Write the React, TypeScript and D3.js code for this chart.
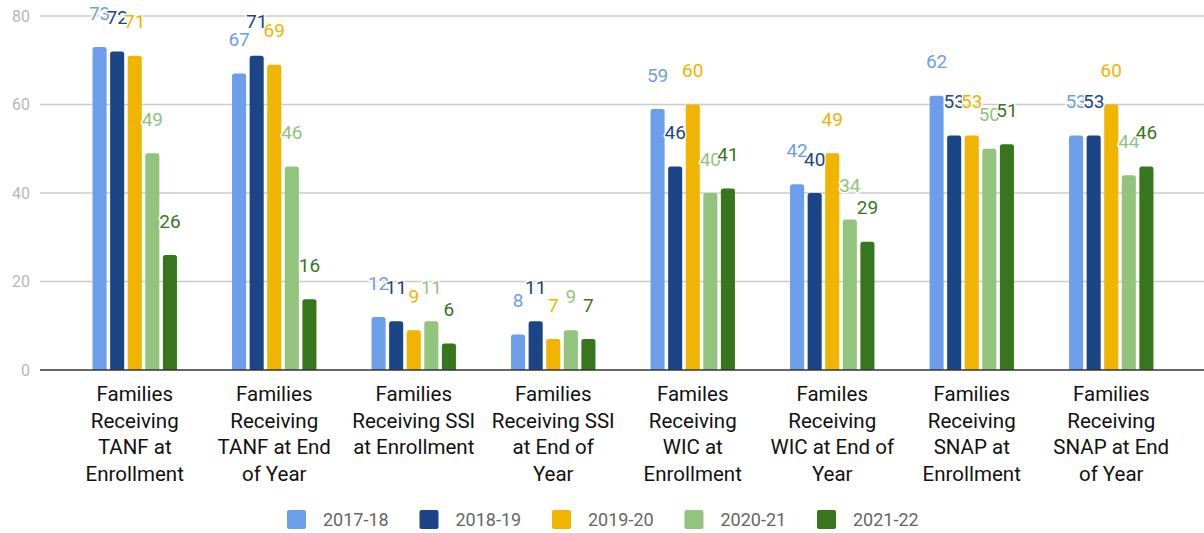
import React from "react";
import * as d3 from "d3";

const categories = [
  "Families\nReceiving\nTANF at\nEnrollment",
  "Families\nReceiving\nTANF at End\nof Year",
  "Families\nReceiving SSI\nat Enrollment",
  "Families\nReceiving SSI\nat End of\nYear",
  "Familes\nReceiving\nWIC at\nEnrollment",
  "Familes\nReceiving\nWIC at End of\nYear",
  "Families\nReceiving\nSNAP at\nEnrollment",
  "Families\nReceiving\nSNAP at End\nof Year",
];

const seriesNames = ["2017-18", "2018-19", "2019-20", "2020-21", "2021-22"];
const seriesColors = ["#6d9eeb", "#1c4587", "#f1b400", "#93c47d", "#38761d"];

const v2017 = [73, 67, 12, 8, 59, 42, 62, 53];
const v2018 = [72, 71, 11, 11, 46, 40, 53, 53];
const v2019 = [71, 69, 9, 7, 60, 49, 53, 60];
const v2020 = [49, 46, 11, 9, 40, 34, 50, 44];
const v2021 = [26, 16, 6, 7, 41, 29, 51, 46];
const seriesValues = [v2017, v2018, v2019, v2020, v2021];

const yTicks = [0, 20, 40, 60, 80];

const W = 1204;
const H = 533;
const FONT = "Roboto, 'Noto Sans', sans-serif";

function topRoundedRect(x: number, y: number, w: number, h: number, r: number) {
  const rr = Math.min(r, h, w / 2);
  return `M${x},${y + h}V${y + rr}Q${x},${y} ${x + rr},${y}H${x + w - rr}Q${x + w},${y} ${x + w},${y + rr}V${y + h}Z`;
}

export default function App() {
  const y = d3.scaleLinear().domain([0, 80]).range([370, 16]);
  const x0 = d3.scaleBand<number>().domain(d3.range(categories.length)).range([65, 1181]).paddingInner(0).paddingOuter(0);
  const x1 = d3.scaleBand<number>().domain(d3.range(seriesNames.length)).range([-42.2, 42.2]).paddingInner(0.2);

  const legendX = d3.scaleBand<number>().domain(d3.range(seriesNames.length)).range([287, 287 + 132.5 * 5]);

  return (
    <svg width={W} height={H} style={{ position: "absolute", left: 0, top: 0, background: "#fff" }} fontFamily={FONT}>
      {yTicks.map((t) => (
        <g key={t}>
          {t !== 0 && <line x1={40} x2={W} y1={y(t)} y2={y(t)} stroke="#cccccc" strokeWidth={1.3} />}
          <text x={30} y={y(t)} dy="0.35em" textAnchor="end" fontSize={16} fill="#b7b7b7">
            {t}
          </text>
        </g>
      ))}
      {categories.map((c, ci) => {
        const cx = (x0(ci) as number) + x0.bandwidth() / 2;
        return (
          <g key={ci}>
            {seriesValues.map((vals, si) => {
              const bx = cx + (x1(si) as number);
              const by = y(vals[ci]);
              return (
                <path
                  key={si}
                  d={topRoundedRect(bx, by, x1.bandwidth(), y(0) - by, 2.5)}
                  fill={seriesColors[si]}
                />
              );
            })}
          </g>
        );
      })}
      <line x1={40} x2={W} y1={y(0)} y2={y(0)} stroke="#333333" strokeWidth={1.5} />
      {categories.map((c, ci) => {
        const cx = (x0(ci) as number) + x0.bandwidth() / 2;
        return (
          <g key={ci}>
            {seriesValues.map((vals, si) => {
              const bx = cx + (x1(si) as number) + x1.bandwidth() / 2;
              const by = y(vals[ci]);
              return (
                <text
                  key={si}
                  x={bx}
                  y={by - 34}
                  dy="0.35em"
                  textAnchor="middle"
                  fontSize={19}
                  fill={seriesColors[si]}
                  stroke="#ffffff"
                  strokeWidth={3}
                  strokeLinejoin="round"
                  paintOrder="stroke"
                >
                  {vals[ci]}
                </text>
              );
            })}
          </g>
        );
      })}
      {categories.map((c, ci) => {
        const cx = (x0(ci) as number) + x0.bandwidth() / 2;
        const lines = c.split("\n");
        return (
          <text key={ci} x={cx} y={394} textAnchor="middle" fontSize={20.5} fill="#111111">
            {lines.map((ln, li) => (
              <tspan key={li} x={cx} y={394 + li * 26.6} dy="0.35em">
                {ln}
              </tspan>
            ))}
          </text>
        );
      })}
      {seriesNames.map((s, si) => {
        const lx = legendX(si) as number;
        return (
          <g key={s}>
            <rect x={lx} y={510} width={19} height={19} rx={2} fill={seriesColors[si]} />
            <text x={lx + 36} y={520} dy="0.35em" fontSize={18} fill="#666666">
              {s}
            </text>
          </g>
        );
      })}
    </svg>
  );
}
